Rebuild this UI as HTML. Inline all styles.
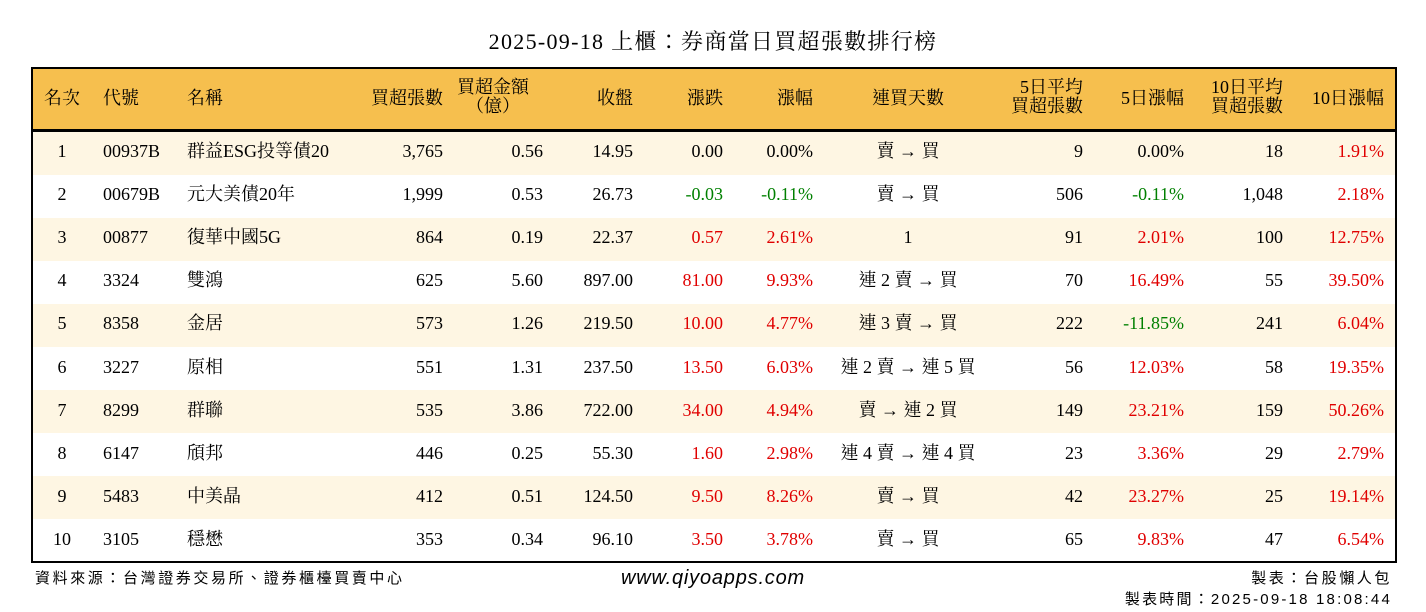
<!DOCTYPE html>
<html><head><meta charset="utf-8"><style>
body{margin:0;width:1426px;height:612px;background:#fff;position:relative;overflow:hidden;font-family:"Liberation Serif","Noto Serif CJK TC","Noto Serif CJK SC",serif;color:#000}
.t{position:absolute;white-space:nowrap;font-size:18px;line-height:20px}
.r{text-align:right}.c{text-align:center}
.box{position:absolute;left:31px;top:67px;width:1362px;height:492px;border:2px solid #000}
.hd{position:absolute;left:0;top:0;width:1362px;height:60px;background:#F6BF4E;border-bottom:3px solid #000}
.row{position:absolute;left:0;width:1362px;height:43px}
.red{color:#E00000}.grn{color:#008000}
.ft{position:absolute;font-family:"Liberation Sans","Noto Sans CJK TC",sans-serif;font-size:15px;white-space:nowrap;letter-spacing:2.6px}
</style></head><body>
<div class="t c" style="left:0;width:1426px;top:30px;font-size:22px;line-height:24px;letter-spacing:1.3px">2025-09-18 上櫃：券商當日買超張數排行榜</div>
<div class="box">
<div class="hd"></div>
<div class="row" style="top:63px;background:#FEF6E3"></div>
<div class="row" style="top:149px;background:#FEF6E3"></div>
<div class="row" style="top:235px;background:#FEF6E3"></div>
<div class="row" style="top:321px;background:#FEF6E3"></div>
<div class="row" style="top:407px;background:#FEF6E3"></div>
</div>
<div id="c"></div>
<script>
const H=[["名次",62,'c'],["代號",103,'l'],["名稱",187,'l'],["買超張數",443,'r'],["買超金額<br>（億）",543,'r2'],["收盤",633,'r'],["漲跌",723,'r'],["漲幅",813,'r'],["連買天數",908,'c'],["5日平均<br>買超張數",1083,'r2'],["5日漲幅",1184,'r'],["10日平均<br>買超張數",1283,'r2'],["10日漲幅",1384,'r']];
const D=[
["1","00937B","群益ESG投等債20","3,765","0.56","14.95","0.00","0.00%","賣 → 買","9","0.00%","18","1.91%"],
["2","00679B","元大美債20年","1,999","0.53","26.73","-0.03","-0.11%","賣 → 買","506","-0.11%","1,048","2.18%"],
["3","00877","復華中國5G","864","0.19","22.37","0.57","2.61%","1","91","2.01%","100","12.75%"],
["4","3324","雙鴻","625","5.60","897.00","81.00","9.93%","連 2 賣 → 買","70","16.49%","55","39.50%"],
["5","8358","金居","573","1.26","219.50","10.00","4.77%","連 3 賣 → 買","222","-11.85%","241","6.04%"],
["6","3227","原相","551","1.31","237.50","13.50","6.03%","連 2 賣 → 連 5 買","56","12.03%","58","19.35%"],
["7","8299","群聯","535","3.86","722.00","34.00","4.94%","賣 → 連 2 買","149","23.21%","159","50.26%"],
["8","6147","頎邦","446","0.25","55.30","1.60","2.98%","連 4 賣 → 連 4 買","23","3.36%","29","2.79%"],
["9","5483","中美晶","412","0.51","124.50","9.50","8.26%","賣 → 買","42","23.27%","25","19.14%"],
["10","3105","穩懋","353","0.34","96.10","3.50","3.78%","賣 → 買","65","9.83%","47","6.54%"]];
let h='';
function cell(txt,x,a,y,cls,lh){
 let st='top:'+y+'px;';
 if(a=='c')st+='left:'+(x-150)+'px;width:300px;text-align:center;';
 else if(a=='l')st+='left:'+x+'px;';
 else st+='left:'+(x-300)+'px;width:300px;text-align:right;';
 if(lh)st+='line-height:'+lh+'px;';
 h+='<div class="t '+(cls||'')+'" style="'+st+'">'+txt+'</div>';
}
H.forEach(c=>{ if(c[2]=='r2'){let s='top:78px;left:'+(c[1]-300)+'px;width:300px;text-align:right;line-height:19px';
 if(c[1]==543) s='top:78px;left:'+(c[1]-100)+'px;width:100px;text-align:center;line-height:19px;padding-left:-0px';
 h+='<div class="t" style="'+s+'">'+c[0]+'</div>';} else cell(c[0],c[1],c[2],88);});
D.forEach((r,i)=>{const y=141+i*43.1;
 r.forEach((v,j)=>{let cls='';
  if([6,7,10,12].includes(j)){const n=parseFloat(v);cls=n>0?'red':n<0?'grn':'';}
  cell(v,H[j][1],H[j][2]=='r2'?'r':H[j][2],y,cls);});});
document.getElementById('c').innerHTML=h;
</script>
<div class="ft" style="left:35px;top:567px">資料來源：台灣證券交易所、證券櫃檯買賣中心</div>
<div class="ft" style="left:0;width:1426px;text-align:center;top:567px;font-size:20px;font-style:italic;letter-spacing:0.8px">www.qiyoapps.com</div>
<div class="ft" style="right:34px;top:567px">製表：台股懶人包</div>
<div class="ft" style="right:34px;top:588px;letter-spacing:2.2px">製表時間：2025-09-18 18:08:44</div>
</body></html>
